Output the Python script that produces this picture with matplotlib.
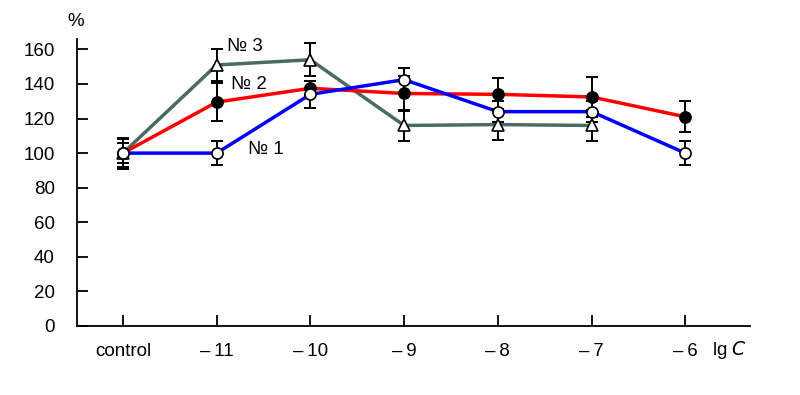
import numpy as np
import matplotlib
matplotlib.use("Agg")
import matplotlib.pyplot as plt

plt.rcParams['font.family'] = ['Liberation Sans', 'DejaVu Sans']

# data
categories = ['control', '\u2013\u200911', '\u2013\u200910', '\u2013\u20099',
              '\u2013\u20098', '\u2013\u20097', '\u2013\u20096']
s1_vals = [100, 100, 134, 142.5, 124, 124, 100]
s1_err = [6, 7, 8, 7, 6, 6, 7]
s2_vals = [100, 129.5, 137.5, 134.5, 134, 132.5, 121]
s2_err = [8, 11, 4, 10, 9.5, 11.5, 9]
s3_vals = [100, 151, 154, 116, 116.5, 116]
s3_err = [9, 9, 9.5, 9, 9, 9]
labels = ['№ 1', '№ 2', '№ 3']

fig = plt.figure(figsize=(8.0, 3.95), dpi=100)
ax = fig.add_axes([0.09625, 0.1747, 0.84125, 0.7265])

series = [
    (s3_vals, s3_err, '#4a6b60', '^', 'white'),
    (s2_vals, s2_err, '#ff0000', 'o', 'black'),
    (s1_vals, s1_err, '#0000ff', 'o', 'white'),
]

# lines
for vals, err, col, mk, fc in series:
    ax.plot(np.arange(len(vals)), vals, color=col, lw=2.5, zorder=2)

# error bars
for vals, err, col, mk, fc in series:
    ax.errorbar(np.arange(len(vals)), vals, yerr=err, fmt='none', ecolor='black',
                elinewidth=1.4, capsize=4.5, capthick=1.4, zorder=3)

# markers
for vals, err, col, mk, fc in series:
    ms = 8.5 if mk == '^' else 8
    ax.plot(np.arange(len(vals)), vals, ls='none', marker=mk, ms=ms, mfc=fc,
            mec='black', mew=1.2, zorder=4)

# series labels
ax.text(1.11, 161.5, labels[2], fontsize=13.5, va='center', ha='left')
ax.text(1.15, 139.5, labels[1], fontsize=13.5, va='center', ha='left')
ax.text(1.33, 102, labels[0], fontsize=13.5, va='center', ha='left')

x = np.arange(len(categories))
ax.set_xlim(-0.49, 6.69)
ax.set_ylim(0, 166)
ax.set_xticks(x)
ax.set_xticklabels(categories)
ax.set_yticks(np.arange(0, 161, 20))

for s in ['top', 'right']:
    ax.spines[s].set_visible(False)
for s in ['left', 'bottom']:
    ax.spines[s].set_linewidth(1.3)

ax.tick_params(axis='both', direction='in', length=8, width=1.3, labelsize=13.5)
ax.tick_params(axis='x', pad=12)
ax.tick_params(axis='y', pad=16)

fig.text(76 / 800, 1 - 22 / 395, '%', fontsize=13.5, ha='center', va='center')
fig.text(712 / 800, 1 - 350 / 395, 'lg $\\it{C}$', fontsize=13.5, ha='left', va='center')

fig.savefig('out.png', dpi=100)
